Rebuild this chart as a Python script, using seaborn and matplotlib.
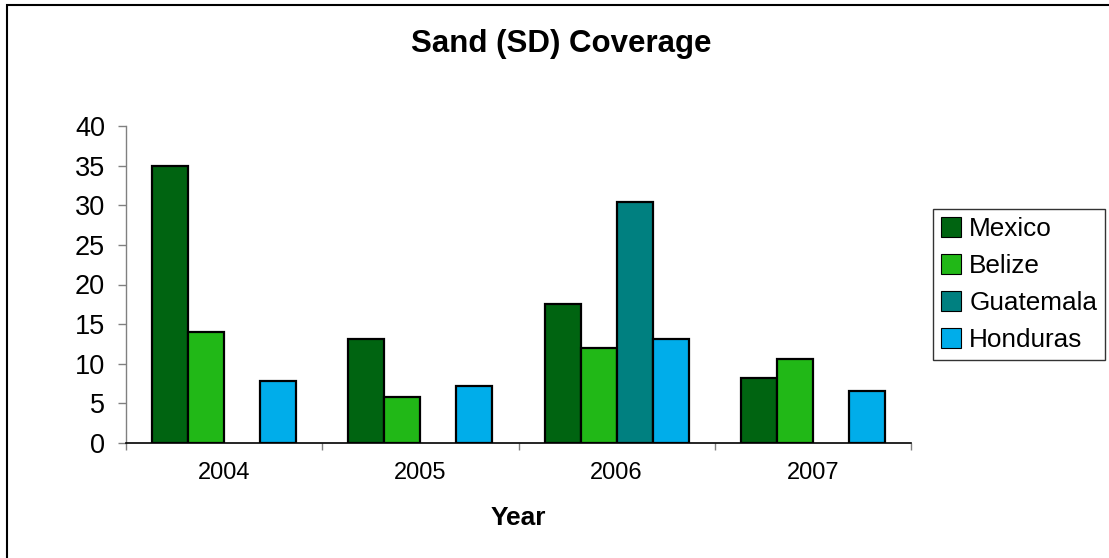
import matplotlib
matplotlib.use("Agg")
import matplotlib.pyplot as plt
import matplotlib.ticker as mticker
from matplotlib.patches import Patch, Rectangle
import numpy as np
import pandas as pd
import seaborn as sns

# Sand (SD) coverage by year and country
years = ["2004", "2005", "2006", "2007"]
countries = ["Mexico", "Belize", "Guatemala", "Honduras"]
mexico = [34.9, 13.1, 17.5, 8.2]
belize = [14.0, 5.8, 12.0, 10.6]
guatemala = [np.nan, np.nan, 30.4, np.nan]
honduras = [7.8, 7.15, 13.1, 6.6]
colors = ["#006411", "#21B817", "#008080", "#00ADEA"]
y_ticks = [0, 5, 10, 15, 20, 25, 30, 35, 40]

series = {"Mexico": mexico, "Belize": belize, "Guatemala": guatemala, "Honduras": honduras}
rows = []
for country, vals in series.items():
    for yr, v in zip(years, vals):
        rows.append({"Year": yr, "Country": country, "Coverage": v})
df = pd.DataFrame(rows).dropna()

sns.set_style("white")
plt.rcParams["font.family"] = ["Liberation Sans", "DejaVu Sans"]
plt.rcParams["text.color"] = "black"
plt.rcParams["xtick.labelcolor"] = "black"
plt.rcParams["ytick.labelcolor"] = "black"

W, H = 1109, 558
fig = plt.figure(figsize=(W / 100, H / 100), dpi=100)
ax = fig.add_axes([126 / W, 1 - 443 / H, (911 - 126) / W, (443 - 126) / H])

sns.barplot(data=df, x="Year", y="Coverage", hue="Country", order=years,
            hue_order=countries, palette=colors, saturation=1, width=0.735,
            gap=0, edgecolor="black", linewidth=1.6, legend=False, ax=ax)

ax.set_xlim(-0.5, len(years) - 0.5)
ax.set_ylim(0, 40)
ax.set_yticks(y_ticks)
ax.set_xlabel("")
ax.set_ylabel("")

for s in ["top", "right"]:
    ax.spines[s].set_visible(False)
ax.spines["left"].set_color("#808080")
ax.spines["bottom"].set_color("black")
ax.spines["left"].set_linewidth(1.0)
ax.spines["bottom"].set_linewidth(1.2)

ax.tick_params(axis="y", which="major", direction="out", length=6, width=1,
               color="#808080", labelsize=19.5, pad=9, left=True)
ax.tick_params(axis="x", which="major", length=0, labelsize=17, pad=14)
ax.xaxis.set_minor_locator(mticker.FixedLocator(np.arange(-0.5, len(years), 1.0)))
ax.tick_params(axis="x", which="minor", direction="out", length=5, width=1,
               color="#808080", bottom=True)

fig.text(561.5 / W, 1 - 44 / H, "Sand (SD) Coverage", ha="center", va="center",
         fontsize=22.5, fontweight="bold", color="black")
fig.text(518.5 / W, 1 - 518 / H, "Year", ha="center", va="center",
         fontsize=19, fontweight="bold", color="black")

handles = [Patch(facecolor=c, edgecolor="black", linewidth=0.8) for c in colors]
leg = fig.legend(handles, countries, loc="upper left",
                 bbox_to_anchor=(932.7 / W, 1 - 209 / H), borderaxespad=0,
                 fontsize=18.8, handlelength=0.8, handleheight=0.8,
                 handletextpad=0.3, borderpad=0.3, labelspacing=0.5,
                 fancybox=False, frameon=True)
leg.get_frame().set_edgecolor("black")
leg.get_frame().set_linewidth(1.0)
for t in leg.get_texts():
    t.set_color("black")

# outer chart border
fig.patches.append(Rectangle((7 / W, -0.05), 1.2, 1 - 5 / H + 0.05,
                             transform=fig.transFigure, fill=False,
                             edgecolor="black", linewidth=1.5))

fig.savefig("out.png", dpi=100)
